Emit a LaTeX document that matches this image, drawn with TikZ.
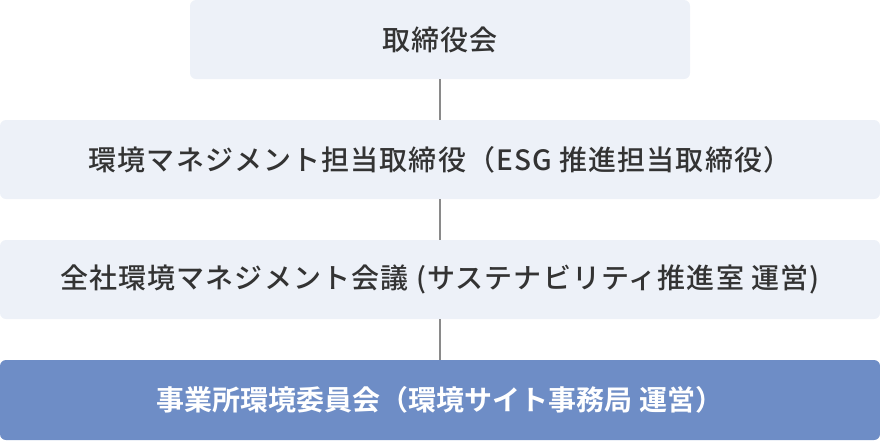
\documentclass[tikz,border=0pt]{standalone}
\usepackage{fontspec}
\setmainfont{Noto Sans CJK JP Medium}[LetterSpace=4]
\newfontfamily\jpbold{Noto Sans CJK JP Bold}[LetterSpace=0]
\definecolor{lightbox}{HTML}{EDF1F8}
\definecolor{darkbox}{HTML}{6E8DC6}
\definecolor{txt}{HTML}{333333}
\definecolor{conn}{HTML}{8A8A8A}
\begin{document}
\begin{tikzpicture}[x=1pt,y=-1pt,
  lbox/.style={fill=lightbox,rounded corners=6pt,inner sep=0pt,minimum height=79pt,text=txt,font=\fontsize{28pt}{30pt}\selectfont},
  dbox/.style={fill=darkbox,rounded corners=6pt,inner sep=0pt,minimum height=80pt,text=white,font=\jpbold\fontsize{28pt}{30pt}\selectfont},
  link/.style={draw=conn,line width=1.5pt}]
\useasboundingbox (0,0) rectangle (880,440);
\node[lbox,minimum width=500pt] (b1) at (440,39.5) {取締役会};
\node[lbox,minimum width=880pt] (b2) at (440,159.5) {環境マネジメント担当取締役（ESG 推進担当取締役）};
\node[lbox,minimum width=880pt] (b3) at (440,279.5) {全社環境マネジメント会議 (サステナビリティ推進室 運営)};
\node[dbox,minimum width=880pt] (b4) at (440,400) {事業所環境委員会（環境サイト事務局 運営）};
\draw[link] (b1.south) -- (b2.north);
\draw[link] (b2.south) -- (b3.north);
\draw[link] (b3.south) -- (b4.north);
\end{tikzpicture}
\end{document}
